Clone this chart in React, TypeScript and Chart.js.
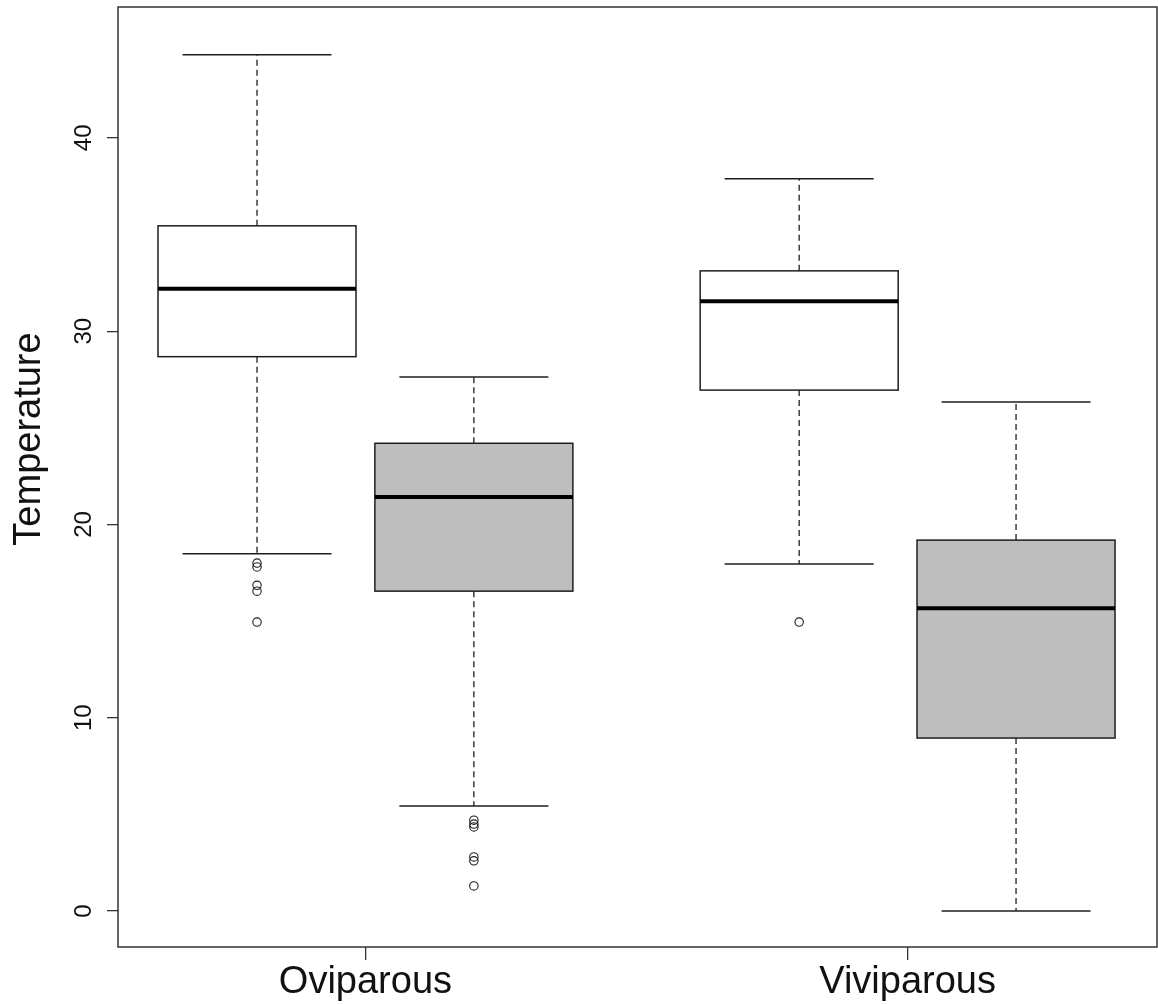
import React, { useEffect, useRef } from "react";
import { Chart, registerables } from "chart.js";

Chart.register(...registerables);

// ---- data ----
const groups = ["Oviparous", "Viviparous"];
const groupTickPositions = [1.5, 4];
const boxPositions = [1, 2, 3.5, 4.5];
const boxFills = ["#ffffff", "#bebebe", "#ffffff", "#bebebe"];
const whiskerLow = [18.48, 5.43, 17.95, 0];
const q1 = [28.68, 16.55, 26.95, 8.95];
const median = [32.2, 21.42, 31.55, 15.67];
const q3 = [35.45, 24.2, 33.12, 19.19];
const whiskerHigh = [44.3, 27.63, 37.88, 26.33];
const outliers = [
  [18.0, 17.8, 16.85, 16.55, 14.95],
  [4.7, 4.5, 4.35, 2.8, 2.6, 1.3],
  [14.95],
  [],
];
const yTicks = [0, 10, 20, 30, 40];
const yTitle = "Temperature";

// ---- style constants ----
const BOX_W = 0.913;
const CAP_W = 0.687;
const FONT = '"Liberation Sans", Arial, sans-serif';
const LINE = "#1e1e1e";

const boxPlugin = {
  id: "rboxes",
  beforeDatasetsDraw(chart: any) {
    const { ctx } = chart;
    const x = chart.scales.x;
    const y = chart.scales.y;
    ctx.save();
    const seg = (x1: number, y1: number, x2: number, y2: number) => {
      ctx.beginPath();
      ctx.moveTo(x1, y1);
      ctx.lineTo(x2, y2);
      ctx.stroke();
    };
    boxPositions.forEach((p, i) => {
      const cx = x.getPixelForValue(p);
      const l = x.getPixelForValue(p - BOX_W / 2);
      const r = x.getPixelForValue(p + BOX_W / 2);
      const cl = x.getPixelForValue(p - CAP_W / 2);
      const cr = x.getPixelForValue(p + CAP_W / 2);
      const yLo = y.getPixelForValue(whiskerLow[i]);
      const yQ1 = y.getPixelForValue(q1[i]);
      const yMed = y.getPixelForValue(median[i]);
      const yQ3 = y.getPixelForValue(q3[i]);
      const yHi = y.getPixelForValue(whiskerHigh[i]);
      ctx.strokeStyle = LINE;
      ctx.lineWidth = 1.3;
      ctx.setLineDash([6, 4]);
      seg(cx, yQ3, cx, yHi);
      seg(cx, yQ1, cx, yLo);
      ctx.setLineDash([]);
      ctx.lineWidth = 1.5;
      seg(cl, yHi, cr, yHi);
      seg(cl, yLo, cr, yLo);
      ctx.fillStyle = boxFills[i];
      ctx.fillRect(l, yQ3, r - l, yQ1 - yQ3);
      ctx.strokeRect(l, yQ3, r - l, yQ1 - yQ3);
      ctx.lineWidth = 4;
      ctx.strokeStyle = "#000";
      seg(l, yMed, r, yMed);
    });
    ctx.restore();
  },
  afterDraw(chart: any) {
    const { ctx, chartArea } = chart;
    const y = chart.scales.y;
    ctx.save();
    ctx.strokeStyle = "#333";
    ctx.lineWidth = 1.5;
    ctx.strokeRect(chartArea.left, chartArea.top, chartArea.right - chartArea.left, chartArea.bottom - chartArea.top);
    ctx.fillStyle = "#111";
    ctx.font = `24px ${FONT}`;
    ctx.textAlign = "center";
    ctx.textBaseline = "alphabetic";
    yTicks.forEach((v) => {
      const py = y.getPixelForValue(v);
      ctx.save();
      ctx.translate(91, py);
      ctx.rotate(-Math.PI / 2);
      ctx.fillText(String(v), 0, 0);
      ctx.restore();
    });
    ctx.font = `38px ${FONT}`;
    ctx.save();
    ctx.translate(40, 439);
    ctx.rotate(-Math.PI / 2);
    ctx.fillText(yTitle, 0, 0);
    ctx.restore();
    ctx.restore();
  },
};

export default function App() {
  const ref = useRef<HTMLCanvasElement | null>(null);
  useEffect(() => {
    if (!ref.current) return;
    const outlierData: { x: number; y: number }[] = [];
    outliers.forEach((arr, i) => arr.forEach((v) => outlierData.push({ x: boxPositions[i], y: v })));
    const chart = new Chart(ref.current, {
      type: "scatter",
      data: {
        datasets: [
          {
            label: "outliers",
            data: outlierData,
            pointStyle: "circle",
            pointRadius: 4.2,
            pointBorderWidth: 1.1,
            pointBorderColor: LINE,
            pointBackgroundColor: "rgba(255,255,255,0)",
          } as any,
        ],
      },
      options: {
        responsive: false,
        animation: false,
        events: [],
        layout: { autoPadding: false, padding: { top: 7, right: 1, left: 0, bottom: 0 } },
        plugins: { legend: { display: false }, tooltip: { enabled: false }, title: { display: false } },
        scales: {
          x: {
            type: "linear",
            min: 0.359,
            max: 5.15,
            afterBuildTicks: (s: any) => {
              s.ticks = groupTickPositions.map((v) => ({ value: v }));
            },
            afterFit: (s: any) => {
              s.height = 57;
            },
            grid: { drawOnChartArea: false, drawTicks: true, tickLength: 13, color: "#333", lineWidth: 1.3 },
            border: { display: false },
            ticks: {
              autoSkip: false,
              maxRotation: 0,
              minRotation: 0,
              padding: 0,
              color: "#111",
              font: { family: FONT, size: 38 },
              callback: (v: any) => {
                const idx = groupTickPositions.indexOf(Number(v));
                return idx >= 0 ? groups[idx] : "";
              },
            },
          },
          y: {
            type: "linear",
            min: -1.86,
            max: 46.77,
            afterBuildTicks: (s: any) => {
              s.ticks = yTicks.map((v) => ({ value: v }));
            },
            afterFit: (s: any) => {
              s.width = 118;
            },
            grid: { drawOnChartArea: false, drawTicks: true, tickLength: 11, color: "#333", lineWidth: 1.3 },
            border: { display: false },
            ticks: { display: false },
          },
        },
      },
      plugins: [boxPlugin],
    });
    return () => chart.destroy();
  }, []);
  return (
    <div style={{ position: "absolute", left: 0, top: 0, width: 1158, height: 1004, background: "#fff" }}>
      <canvas ref={ref} width={1158} height={1004} style={{ width: 1158, height: 1004, display: "block" }} />
    </div>
  );
}
